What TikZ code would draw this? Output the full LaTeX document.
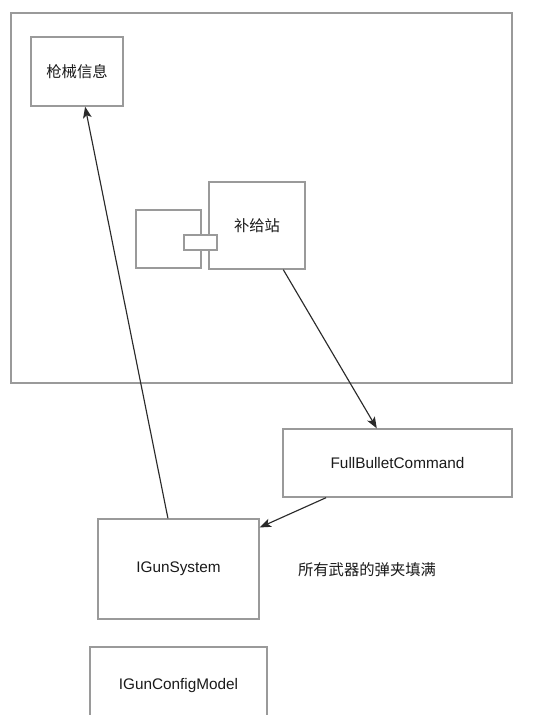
\documentclass[tikz,border=0pt]{standalone}
\usepackage{fontspec}
\setmainfont{Liberation Sans}
\newfontfamily\cjk{Noto Sans CJK SC}
\usetikzlibrary{arrows.meta,calc}
\definecolor{boxline}{HTML}{9A9A9A}
\definecolor{arrowline}{HTML}{2A2A2A}
\definecolor{txt}{HTML}{1A1A1A}
\tikzset{
  box/.style={draw=boxline, line width=1pt, fill=white, inner sep=0pt, text=txt,
    font=\fontsize{11.5pt}{13pt}\selectfont},
  conn/.style={draw=arrowline, line width=0.85pt},
  arr/.style={conn, -{Stealth[length=8.5pt,width=6.5pt,inset=2pt]}},
  lbl/.style={text=txt, inner sep=0pt, font=\fontsize{11.5pt}{13pt}\selectfont\cjk}
}
\begin{document}
\begin{tikzpicture}[x=0.75pt,y=-0.75pt]
\useasboundingbox (0,0) rectangle (548,715);
\clip (0,0) rectangle (548,715);
\fill[white] (0,0) rectangle (548,715);
% outer frame
\node[box, fill=none, minimum width=501*0.75pt, minimum height=370*0.75pt] (frame) at (261.5,198) {};
% 枪械信息
\node[box, minimum width=92*0.75pt, minimum height=69*0.75pt, font=\fontsize{11.5pt}{13pt}\selectfont\cjk] (gun) at (77,71.5) {枪械信息};
% component
\node[box, minimum width=65*0.75pt, minimum height=58*0.75pt] (comp) at (168.5,239) {};
\node[box, minimum width=96*0.75pt, minimum height=87*0.75pt, font=\fontsize{11.5pt}{13pt}\selectfont\cjk] (supply) at (257,225.5) {补给站};
\node[box, minimum width=33*0.75pt, minimum height=15*0.75pt] (port) at (200.5,242.5) {};
% FullBulletCommand
\node[box, minimum width=229*0.75pt, minimum height=68*0.75pt] (fbc) at (397.5,463) {FullBulletCommand};
% IGunSystem
\node[box, minimum width=161*0.75pt, minimum height=100*0.75pt] (igs) at (178.5,569) {IGunSystem};
% note
\node[lbl] (note) at (367,570) {所有武器的弹夹填满};
% IGunConfigModel
\node[box, minimum width=177*0.75pt, minimum height=78*0.75pt] (igc) at (178.5,686) {IGunConfigModel};
% connectors
\draw[arr] ($(supply.south west)!0.77!(supply.south east)$) -- ($(fbc.north west)!0.41!(fbc.north east)$);
\draw[arr] ($(fbc.south west)!0.19!(fbc.south east)$) -- ($(igs.north east)!0.09!(igs.south east)$);
\draw[arr] ($(igs.north west)!0.435!(igs.north east)$) -- ($(gun.south west)!0.587!(gun.south east)$);
\end{tikzpicture}
\end{document}
